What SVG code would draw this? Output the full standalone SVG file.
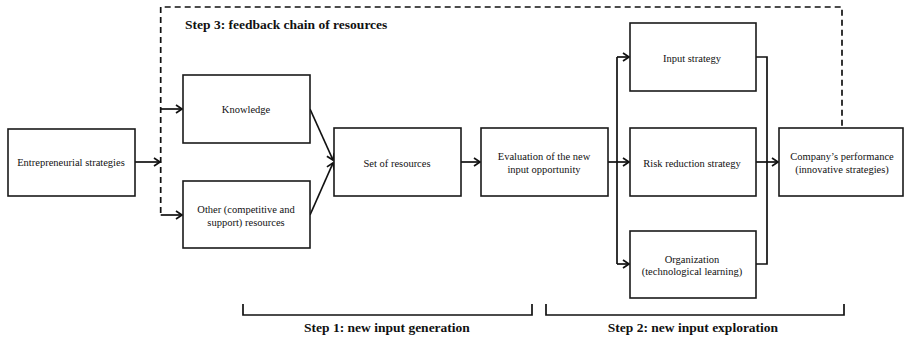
<svg xmlns="http://www.w3.org/2000/svg" width="905" height="339" viewBox="0 0 905 339">
<style>
.box{fill:#fff;stroke:#1a1a1a;stroke-width:1.6}
.t{font-family:"Liberation Serif","Times New Roman",serif;font-size:10.5px;fill:#111;text-anchor:middle}
.b{font-family:"Liberation Serif","Times New Roman",serif;font-size:13.5px;font-weight:bold;fill:#111}
.ln{fill:none;stroke:#111;stroke-width:1.7}
.ar{fill:none;stroke:#111;stroke-width:1.7;marker-end:url(#ah)}
.dash{fill:none;stroke:#111;stroke-width:1.7;stroke-dasharray:6 4}
</style>
<defs>
<marker id="ah" markerWidth="10" markerHeight="10" refX="8" refY="5" orient="auto" markerUnits="userSpaceOnUse">
<path d="M2,1 L8,5 L2,9" fill="none" stroke="#111" stroke-width="1.7"/>
</marker>
</defs>
<rect width="905" height="339" fill="#fff"/>
<g id="connectors">
<path class="dash" d="M160.7,213 L160.7,7 L842,7 L842,128"/>
<path class="ar" d="M135,162 L160,162"/>
<path class="ar" d="M160.7,109 L182,109"/>
<path class="ar" d="M160.7,215 L182,215"/>
<path class="ar" d="M310,109 L333,160"/>
<path class="ar" d="M310,215 L333,163"/>
<path class="ar" d="M461,162 L480,162"/>
<path class="ln" d="M608,162 L617,162"/>
<path class="ln" d="M617,57 L617,264"/>
<path class="ar" d="M617,57 L629,57"/>
<path class="ar" d="M617,162 L629,162"/>
<path class="ar" d="M617,264 L629,264"/>
<path class="ln" d="M756,57 L767,57 L767,264 L756,264"/>
<path class="ar" d="M756,162 L778,162"/>
<path class="ln" d="M243,304 L243,315 L532,315 L532,304"/>
<path class="ln" d="M546,304 L546,315 L844,315 L844,304"/>
</g>
<g id="entrepreneurial"><rect class="box" x="8" y="129" width="127" height="67"/><text class="t" x="71" y="166">Entrepreneurial  strategies</text></g>
<g id="knowledge"><rect class="box" x="183" y="75" width="127" height="68"/><text class="t" x="246" y="113">Knowledge</text></g>
<g id="other"><rect class="box" x="183" y="181" width="127" height="67"/><text class="t" x="246" y="212.5">Other (competitive  and</text><text class="t" x="246" y="225.5">support) resources</text></g>
<g id="set"><rect class="box" x="334" y="128" width="127" height="68"/><text class="t" x="397" y="166.5">Set of resources</text></g>
<g id="evaluation"><rect class="box" x="481" y="128" width="127" height="68"/><text class="t" x="544" y="159.5">Evaluation of the new</text><text class="t" x="544" y="173">input opportunity</text></g>
<g id="input"><rect class="box" x="630" y="23" width="126" height="68"/><text class="t" x="692" y="61.5">Input strategy</text></g>
<g id="risk"><rect class="box" x="630" y="128" width="126" height="68"/><text class="t" x="692" y="166.5">Risk  reduction strategy</text></g>
<g id="organization"><rect class="box" x="630" y="231" width="126" height="67"/><text class="t" x="692" y="262.5">Organization</text><text class="t" x="692" y="275">(technological learning)</text></g>
<g id="company"><rect class="box" x="779" y="128" width="124" height="68"/><text class="t" x="842" y="160">Company’s performance</text><text class="t" x="842" y="172.5">(innovative strategies)</text></g>
<g id="labels">
<text class="b" x="185" y="29">Step 3: feedback  chain of resources</text>
<text class="b" x="387" y="332" text-anchor="middle">Step 1: new input generation</text>
<text class="b" x="693" y="332" text-anchor="middle">Step 2: new input exploration</text>
</g>
</svg>
